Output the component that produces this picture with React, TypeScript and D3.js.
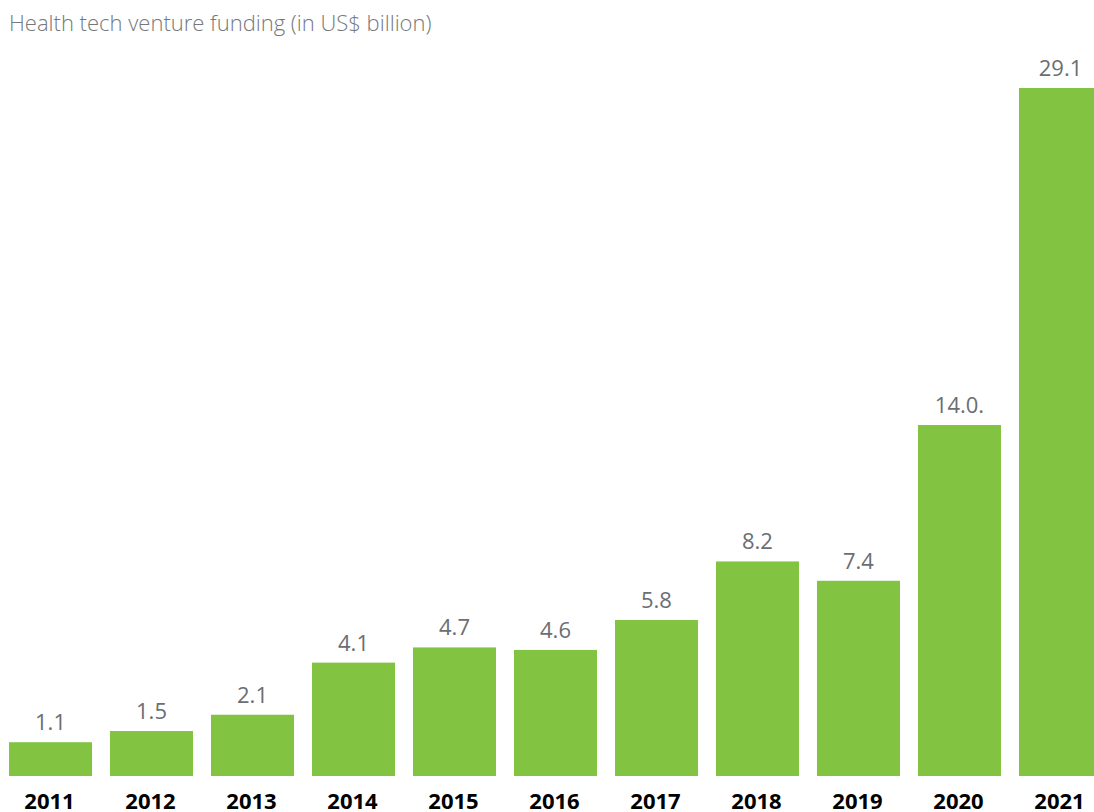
import React from "react";
import * as d3 from "d3";

const years = ["2011", "2012", "2013", "2014", "2015", "2016", "2017", "2018", "2019", "2020", "2021"];
const funding = [1.1, 1.5, 2.1, 4.1, 4.7, 4.6, 5.8, 8.2, 7.4, 14.0, 29.1];
const valueLabels = ["1.1", "1.5", "2.1", "4.1", "4.7", "4.6", "5.8", "8.2", "7.4", "14.0.", "29.1"];
const title = "Health tech venture funding (in US$ billion)";

const W = 1094;
const H = 812;
const baseY = 776;
const topY = 88;

export default function App() {
  const x = d3.scaleBand<string>().domain(years).range([9, 1102]).paddingInner(0.178).paddingOuter(0);
  const y = d3.scalePow().exponent(0.92).domain([0, d3.max(funding) as number]).range([baseY, topY]);
  const font = "'Open Sans', 'Noto Sans', sans-serif";
  return (
    <svg width={W} height={H} style={{ position: "absolute", left: 0, top: 0, background: "#fff" }}>
      <text x={9} y={31} fontFamily={font} fontWeight={300} fontSize={22} fill="#75787b">
        {title}
      </text>
      {years.map((yr, i) => {
        const bx = x(yr) as number;
        const by = y(funding[i]);
        const cx = bx + x.bandwidth() / 2;
        return (
          <g key={yr}>
            <rect x={bx} y={by} width={x.bandwidth()} height={baseY - by} fill="#82c341" />
            <text x={cx} y={by - 12} textAnchor="middle" fontFamily={font} fontWeight={400} fontSize={22} fill="#6b6e72">
              {valueLabels[i]}
            </text>
            <text x={cx - 1} y={809} textAnchor="middle" fontFamily={font} fontWeight={700} fontSize={22} fill="#000">
              {yr}
            </text>
          </g>
        );
      })}
    </svg>
  );
}
